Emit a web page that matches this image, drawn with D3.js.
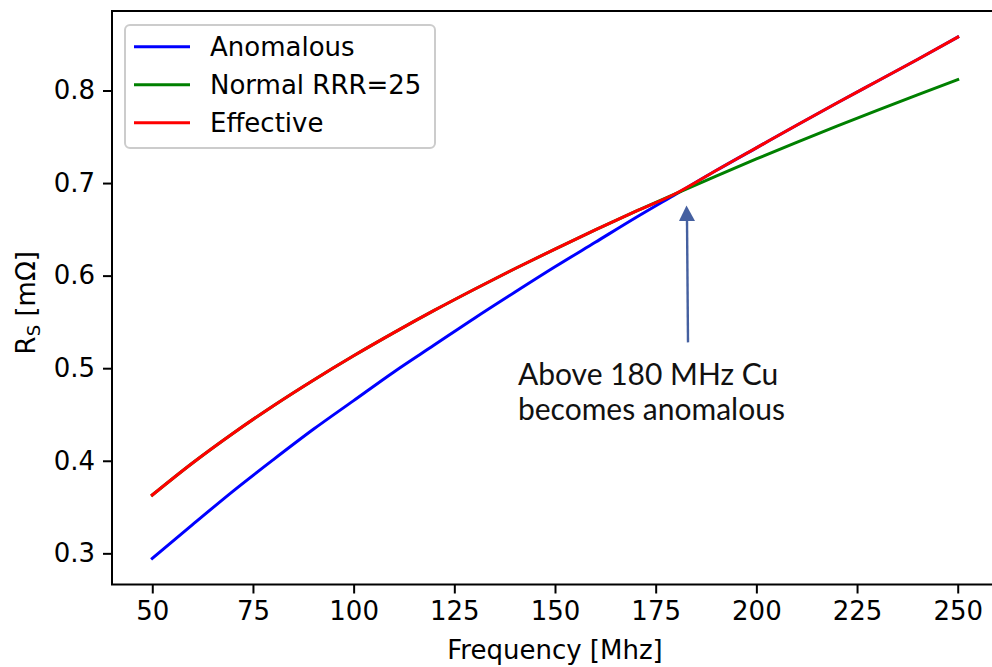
<!DOCTYPE html>
<html>
<head>
<meta charset="utf-8">
<script src="https://cdn.jsdelivr.net/npm/d3@7"></script>
<style>
  html, body { margin: 0; padding: 0; background: #fff; }
  svg { display: block; }
  text { font-family: "DejaVu Sans", sans-serif; }
</style>
</head>
<body>
<svg id="chart" width="992" height="667"></svg>
<script>
// Surface resistance of copper vs frequency
const freq = [50, 60, 70, 80, 90, 100, 110, 120, 130, 140, 150, 160, 170, 180, 190, 200, 210, 220, 230, 240, 250];
const anomalous = [0.2945, 0.331, 0.367, 0.401, 0.434, 0.465, 0.496, 0.525, 0.554, 0.582, 0.6095, 0.636, 0.6625, 0.688, 0.7135, 0.738, 0.7625, 0.7865, 0.810, 0.8335, 0.8577];
const normalRRR25 = [0.363, 0.3976, 0.4295, 0.4592, 0.487, 0.5134, 0.5384, 0.5624, 0.5853, 0.6074, 0.6287, 0.6494, 0.6693, 0.6887, 0.7076, 0.726, 0.7439, 0.7614, 0.7786, 0.7953, 0.8117];
const effective = [0.363, 0.3976, 0.4295, 0.4592, 0.487, 0.5134, 0.5384, 0.5624, 0.5853, 0.6074, 0.6287, 0.6494, 0.6693, 0.6887, 0.7135, 0.738, 0.7625, 0.7865, 0.810, 0.8335, 0.8577];
const seriesNames = ["Anomalous", "Normal RRR=25", "Effective"];
const seriesColors = ["#0000ff", "#008000", "#ff0000"];
const xTicks = [50, 75, 100, 125, 150, 175, 200, 225, 250];
const yTicks = [0.3, 0.4, 0.5, 0.6, 0.7, 0.8];
const noteLines = ["Above 180 MHz Cu", "becomes anomalous"];

const svg = d3.select("#chart");
const margin = { left: 112, top: 11, right: 998, bottom: 584.5 };

const allY = anomalous.concat(normalRRR25, effective);
const yMin = d3.min(allY), yMax = d3.max(allY), yPad = (yMax - yMin) * 0.05;
const xMin = d3.min(freq), xMax = d3.max(freq), xPad = (xMax - xMin) * 0.05;

const x = d3.scaleLinear().domain([xMin - xPad, xMax + xPad]).range([margin.left, margin.right]);
const y = d3.scaleLinear().domain([yMin - yPad, yMax + yPad]).range([margin.bottom, margin.top]);

const series = [anomalous, normalRRR25, effective];

// Curves
const line = d3.line()
  .x((d, i) => x(freq[i]))
  .y(d => y(d))
  .curve(d3.curveMonotoneX);

svg.append("g").selectAll("path")
  .data(series)
  .join("path")
  .attr("d", d => line(d))
  .attr("fill", "none")
  .attr("stroke", (d, i) => seriesColors[i])
  .attr("stroke-width", 3)
  .attr("stroke-linecap", "square")
  .attr("stroke-linejoin", "round");

// Axes
const xAxis = d3.axisBottom(x).tickValues(xTicks).tickSize(9).tickPadding(8).tickFormat(d3.format("d"));
const yAxis = d3.axisLeft(y).tickValues(yTicks).tickSize(9).tickPadding(8).tickFormat(d3.format(".1f"));

const gx = svg.append("g").attr("transform", `translate(0,${margin.bottom})`).call(xAxis);
const gy = svg.append("g").attr("transform", `translate(${margin.left},0)`).call(yAxis);

[gx, gy].forEach(g => {
  g.select(".domain").remove();
  g.selectAll(".tick line").attr("stroke", "#000").attr("stroke-width", 2);
  g.selectAll(".tick text").attr("fill", "#000").style("font-size", "26px").style("font-family", "DejaVu Sans");
});
gx.selectAll(".tick text").attr("dy", "0.71em");

// Frame
svg.append("rect")
  .attr("x", margin.left).attr("y", margin.top)
  .attr("width", margin.right - margin.left)
  .attr("height", margin.bottom - margin.top)
  .attr("fill", "none").attr("stroke", "#000").attr("stroke-width", 2);

// Axis labels
svg.append("text")
  .attr("x", (margin.left + margin.right) / 2)
  .attr("y", 659)
  .attr("text-anchor", "middle")
  .style("font-size", "26px")
  .text("Frequency [Mhz]");

const yl = svg.append("text")
  .attr("transform", `translate(35,${(margin.top + margin.bottom) / 2 + 5}) rotate(-90)`)
  .attr("text-anchor", "middle")
  .style("font-size", "26px");
yl.append("tspan").text("R");
yl.append("tspan").attr("dy", 5).style("font-size", "18px").text("S");
yl.append("tspan").attr("dy", -5).text(" [mΩ]");

// Legend
const lg = svg.append("g");
lg.append("rect")
  .attr("x", 125).attr("y", 25).attr("width", 310).attr("height", 123)
  .attr("rx", 5).attr("fill", "#fff").attr("fill-opacity", 0.8)
  .attr("stroke", "#cccccc").attr("stroke-width", 2);
const rows = lg.selectAll("g.row").data(seriesNames).join("g")
  .attr("transform", (d, i) => `translate(0,${46.7 + i * 38})`);
rows.append("line")
  .attr("x1", 134).attr("x2", 190)
  .attr("stroke", (d, i) => seriesColors[i])
  .attr("stroke-width", 3);
rows.append("text")
  .attr("x", 210).attr("y", 9.4)
  .style("font-size", "26px")
  .text(d => d);

// Annotation arrow and note
const arrowColor = "#4560a0";
const ax = x(182.9);
const tipY = y(0.6758), baseY = y(0.5279);
svg.append("line")
  .attr("x1", ax + 0.5).attr("y1", baseY)
  .attr("x2", ax - 0.5).attr("y2", tipY + 14)
  .attr("stroke", arrowColor).attr("stroke-width", 2.4);
svg.append("path")
  .attr("d", `M${ax - 1},${tipY} L${ax - 8.5},${tipY + 15.5} L${ax + 7.5},${tipY + 15.5} Z`)
  .attr("fill", arrowColor);

const note = svg.append("text")
  .attr("x", x(140.8))
  .attr("y", y(0.4822))
  .style("font-family", "Lato, 'Open Sans', sans-serif")
  .style("font-size", "30px")
  .attr("fill", "#111");
note.selectAll("tspan").data(noteLines).join("tspan")
  .attr("x", x(140.8))
  .attr("dy", (d, i) => i === 0 ? 0 : 35)
  .text(d => d);
</script>
</body>
</html>
